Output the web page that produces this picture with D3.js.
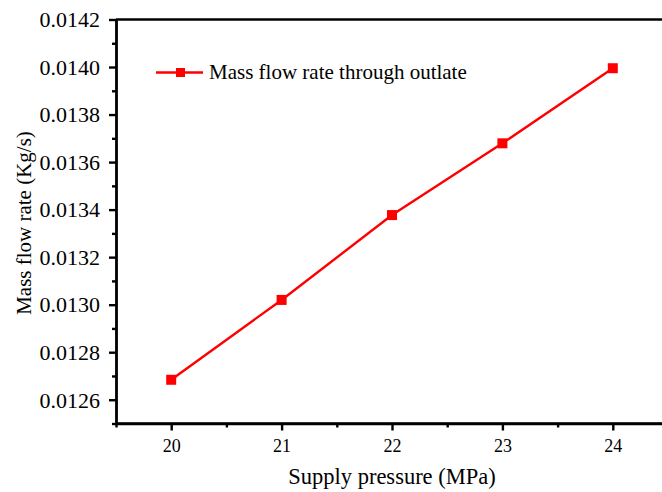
<!DOCTYPE html>
<html><head><meta charset="utf-8">
<script src="https://cdn.jsdelivr.net/npm/d3@7"></script>
<style>
html,body{margin:0;padding:0;background:#fff;overflow:hidden}
svg text{font-family:"Liberation Serif","Times New Roman",Times,"DejaVu Serif",serif;fill:#000}
</style>
</head><body>
<svg id="c" width="662" height="492"></svg>
<script>
const pressure = [20, 21, 22, 23, 24];
const massFlow = [0.012684, 0.013020, 0.013377, 0.013679, 0.013995];
const xTicks = [20, 21, 22, 23, 24];
const yTicks = [0.0126, 0.0128, 0.0130, 0.0132, 0.0134, 0.0136, 0.0138, 0.0140, 0.0142];
const seriesName = "Mass flow rate through outlate";
const xTitle = "Supply pressure (MPa)";
const yTitle = "Mass flow rate (Kg/s)";

const svg = d3.select("#c");
const L = 116, T = 19.5, B = 423.5;
const x = d3.scaleLinear().domain([19.5, 24.5]).range([L, L + 552]);
const y = d3.scaleLinear().domain([0.0125, 0.0142]).range([B, T]);

// frame top
svg.append("line").attr("x1", L).attr("x2", 700).attr("y1", T).attr("y2", T)
  .attr("stroke", "#000").attr("stroke-width", 2.4);

// x axis
const xa = svg.append("g").attr("transform", `translate(0,${B})`)
  .call(d3.axisBottom(x).tickValues(xTicks).tickFormat(d3.format("d")).tickSize(7).tickSizeOuter(0));
const xm = svg.append("g").attr("transform", `translate(0,${B})`)
  .call(d3.axisBottom(x).tickValues(d3.range(19.5, 24.6, 1)).tickFormat("").tickSize(4).tickSizeOuter(0));
// y axis
const ya = svg.append("g").attr("transform", `translate(${L},0)`)
  .call(d3.axisLeft(y).tickValues(yTicks).tickFormat(d3.format(".4f")).tickSize(7).tickSizeOuter(0));
const ym = svg.append("g").attr("transform", `translate(${L},0)`)
  .call(d3.axisLeft(y).tickValues(d3.range(0.0125, 0.01425, 0.0002)).tickFormat("").tickSize(4).tickSizeOuter(0));

[xa, xm, ya, ym].forEach(g => {
  g.attr("font-family", null);
  g.select(".domain").attr("stroke", "#000").attr("stroke-width", 2.4);
  g.selectAll(".tick line").attr("stroke", "#000").attr("stroke-width", 2.4);
});
xa.select(".domain").attr("d", `M${L},0H700`);
xa.selectAll(".tick text").attr("font-size", 18).attr("y", 28).attr("dy", null);
ya.selectAll(".tick text").attr("font-size", 22).attr("x", -16).attr("dy", "0.33em");

// line
const line = d3.line().x((d, i) => x(pressure[i])).y(d => y(d));
svg.append("path").datum(massFlow).attr("d", line).attr("fill", "none")
  .attr("stroke", "#ff0000").attr("stroke-width", 2.4);
svg.selectAll("rect.pt").data(massFlow).join("rect").attr("class", "pt")
  .attr("x", (d, i) => x(pressure[i]) - 5).attr("y", d => y(d) - 5)
  .attr("width", 10).attr("height", 10).attr("fill", "#ff0000");

// legend
const lg = svg.append("g").attr("transform", "translate(156,72.5)");
lg.append("line").attr("x1", 0).attr("x2", 47).attr("y1", 0).attr("y2", 0).attr("stroke", "#ff0000").attr("stroke-width", 2.4);
lg.append("rect").attr("x", 24.5 - 4.5).attr("y", -4.5).attr("width", 9).attr("height", 9).attr("fill", "#ff0000");
lg.append("text").attr("x", 53).attr("y", 6.5).attr("font-size", 21).text(seriesName);

// titles
svg.append("text").attr("x", 392).attr("y", 484).attr("text-anchor", "middle")
  .attr("font-size", 22.5).text(xTitle);
svg.append("text").attr("transform", "translate(31,223) rotate(-90)").attr("text-anchor", "middle")
  .attr("font-size", 21).text(yTitle);
</script>
</body></html>
